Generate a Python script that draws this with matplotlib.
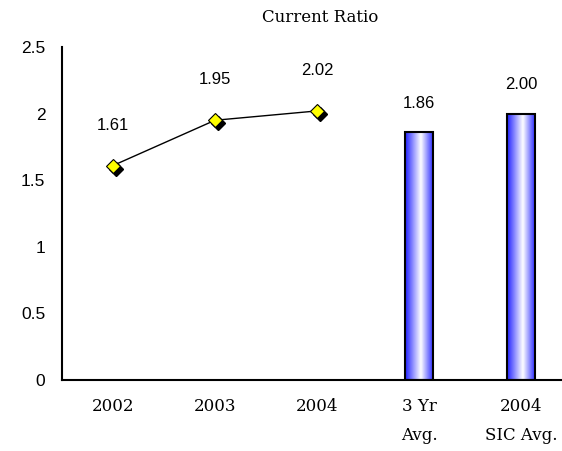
import numpy as np
import matplotlib
matplotlib.use('Agg')
import matplotlib.pyplot as plt
import matplotlib.transforms as mtrans
from matplotlib.colors import LinearSegmentedColormap

categories = ['2002', '2003', '2004', '3 Yr\nAvg.', '2004\nSIC Avg.']
line_years = ['2002', '2003', '2004']
line_values = [1.61, 1.95, 2.02]
bar_labels = ['3 Yr\nAvg.', '2004\nSIC Avg.']
bar_values = [1.86, 2.00]

fig = plt.figure(figsize=(5.62, 4.51), dpi=100)
ax = fig.add_axes([62 / 562, 71 / 451, 510 / 562, 333 / 451])

x_line = np.arange(len(line_years))
x_bar = np.arange(len(line_years), len(categories))

# shadow of the markers, a few pixels down and right
shadow = mtrans.offset_copy(ax.transData, fig=fig, x=3, y=-3, units='dots')
ax.plot(x_line, line_values, linestyle='none', marker='D', markersize=7,
        color='black', transform=shadow, zorder=3)
ax.plot(x_line, line_values, color='black', lw=1, zorder=2)
ax.plot(x_line, line_values, linestyle='none', marker='D', markersize=7,
        markerfacecolor='#ffff00', markeredgecolor='black', markeredgewidth=0.8, zorder=4)

for xi, v in zip(x_line, line_values):
    ax.annotate(f'{v:.2f}', (xi, v), xytext=(0, 29), textcoords='offset points',
                ha='center', va='center', fontsize=12, family='Liberation Sans')

# bars with a blue-white-blue shine
cmap = LinearSegmentedColormap.from_list('shine', [(0, '#1f1fff'), (0.55, '#ffffff'), (1, '#1f1fff')])
grad = np.linspace(0, 1, 256).reshape(1, -1)
bars = ax.bar(x_bar, bar_values, width=0.28, facecolor='none', edgecolor='black', lw=1.5, zorder=3)
for b in bars:
    x0, y0 = b.get_x(), b.get_y()
    im = ax.imshow(grad, cmap=cmap, aspect='auto', extent=[x0, x0 + b.get_width(), y0, y0 + b.get_height()],
                   zorder=2, interpolation='bicubic')
    im.set_clip_path(b)

for xi, v in zip(x_bar, bar_values):
    ax.annotate(f'{v:.2f}', (xi, v), xytext=(0, 21), textcoords='offset points',
                ha='center', va='center', fontsize=12, family='Liberation Sans')

ax.set_xlim(-0.5, 4.5)
ax.set_ylim(0, 2.5)
ax.set_yticks([0, 0.5, 1, 1.5, 2, 2.5])
ax.set_yticklabels(['0', '0.5', '1', '1.5', '2', '2.5'], family='Liberation Sans', fontsize=12.5)
ax.set_xticks(np.arange(len(categories)))
ax.set_xticklabels(categories, family='DejaVu Serif', fontsize=12, linespacing=1.95, va='top')
ax.tick_params(length=0)
ax.tick_params(axis='x', pad=13)
ax.tick_params(axis='y', pad=12)
for s in ['top', 'right']:
    ax.spines[s].set_visible(False)
for s in ['left', 'bottom']:
    ax.spines[s].set_linewidth(1.5)

fig.text(320 / 562, 1 - 17 / 451, 'Current Ratio', ha='center', va='center',
         family='DejaVu Serif', fontsize=12)

fig.savefig('out.png', dpi=100)
